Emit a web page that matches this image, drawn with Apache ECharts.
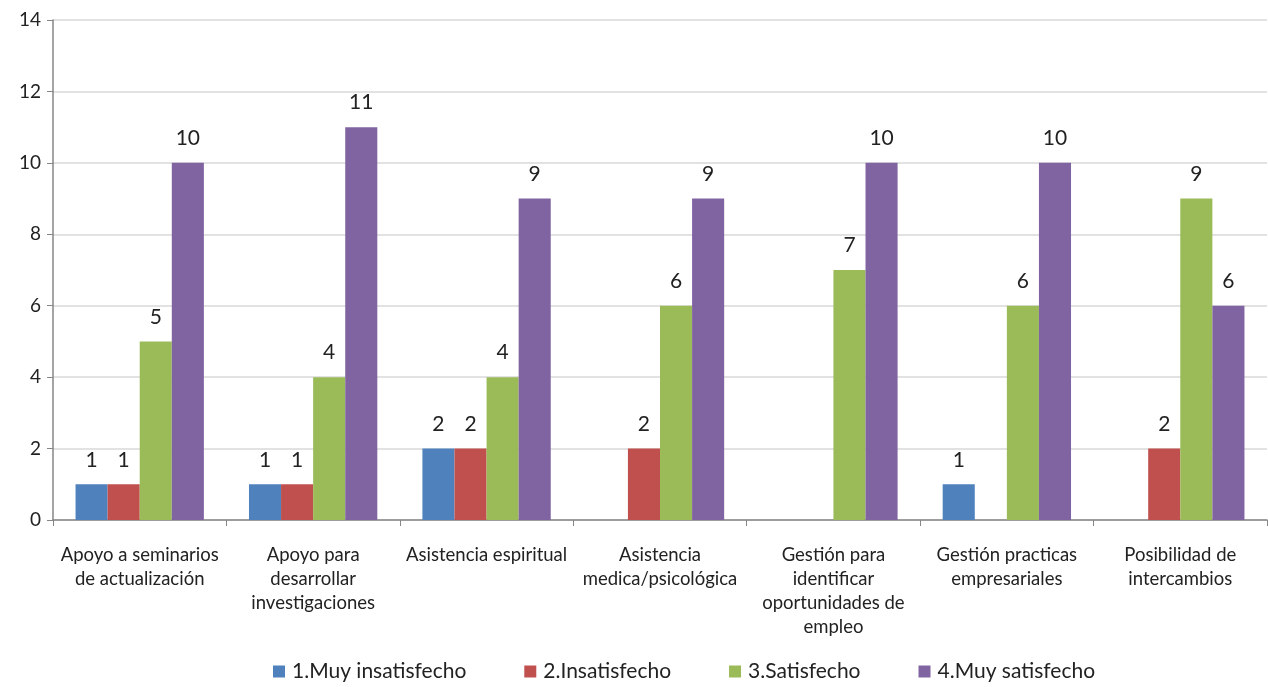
<!DOCTYPE html>
<html><head><meta charset="utf-8">
<script src="https://cdn.jsdelivr.net/npm/echarts@6/dist/echarts.min.js"></script>
<style>html,body{margin:0;padding:0;background:#fff}#c{width:1268px;height:687px}</style>
</head><body><div id="c"></div>
<script>
const categories = ["Apoyo a seminarios\nde actualización","Apoyo para\ndesarrollar\ninvestigaciones","Asistencia espiritual","Asistencia\nmedica/psicológica","Gestión para\nidentificar\noportunidades de\nempleo","Gestión practicas\nempresariales","Posibilidad de\nintercambios"];
const seriesNames = ["1.Muy insatisfecho","2.Insatisfecho","3.Satisfecho","4.Muy satisfecho"];
const muyInsatisfecho = [1,1,2,null,null,1,null];
const insatisfecho = [1,1,2,2,null,null,2];
const satisfecho = [5,4,4,6,7,6,9];
const muySatisfecho = [10,11,9,9,10,10,6];
const colors = ["#4F81BD","#C0504D","#9BBB59","#8064A2"];
const font = "Lato, 'Open Sans', sans-serif";
const all = [muyInsatisfecho, insatisfecho, satisfecho, muySatisfecho];
const chart = echarts.init(document.getElementById('c'));
chart.setOption({
  animation:false,
  textStyle:{fontFamily:font},
  grid:{left:53,right:1,top:20,bottom:167},
  legend:{bottom:0,left:268,itemWidth:12,itemHeight:12,itemGap:58,icon:'rect',
    textStyle:{fontSize:21,color:'#222',fontFamily:font,padding:[0,0,0,2]},data:seriesNames},
  xAxis:{type:'category',data:categories,
    axisLine:{lineStyle:{color:'#868686',width:1.5}},
    axisTick:{show:true,length:6,lineStyle:{color:'#868686'}},
    axisLabel:{fontSize:18.5,color:'#222',lineHeight:24,margin:23,interval:0,fontFamily:font}},
  yAxis:{type:'value',min:0,max:14,interval:2,
    axisLine:{show:true,lineStyle:{color:'#868686',width:1.5}},
    axisTick:{show:true,length:6,lineStyle:{color:'#868686'}},
    splitLine:{lineStyle:{color:'#D9D9D9',width:1.5}},
    axisLabel:{fontSize:19,color:'#222',margin:12,fontFamily:font}},
  series: all.map((d,i)=>({name:seriesNames[i],type:'bar',data:d,barGap:'0%',barCategoryGap:'26%',
    itemStyle:{color:colors[i]},
    label:{show:true,position:'top',distance:14,fontSize:21,color:'#222',fontFamily:font}}))
});
</script></body></html>
